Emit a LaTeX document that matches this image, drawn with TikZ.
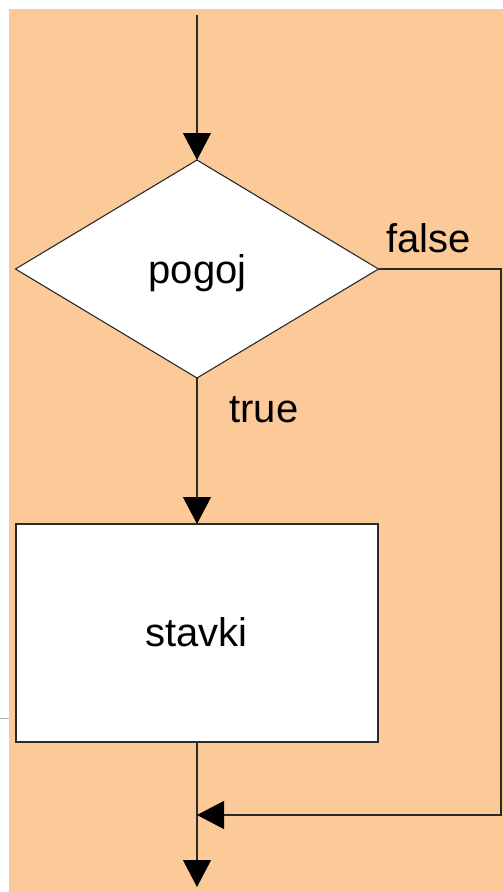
\documentclass[tikz,border=0pt]{standalone}
\usepackage{fontspec}
\setmainfont{Liberation Sans}
\usetikzlibrary{shapes.geometric,arrows.meta}
\definecolor{peach}{HTML}{FCCA98}
\definecolor{lineclr}{HTML}{2A2A2A}
\begin{document}
\begin{tikzpicture}[x=1pt,y=-1pt,
  flow/.style={draw=lineclr, line width=1.1pt},
  arr/.style={flow, -{Triangle[length=27pt,width=28pt,black]}},
  lbl/.style={font=\fontsize{40}{48}\selectfont, inner sep=0, anchor=base},
  decision/.style={diamond, draw=lineclr, fill=white, line width=1.1pt,
    minimum width=363pt, minimum height=218pt, inner sep=0, outer sep=0},
  process/.style={rectangle, draw=lineclr, fill=white, line width=1.1pt,
    minimum width=362pt, minimum height=218pt, inner sep=0, outer sep=0}]
\useasboundingbox (0,0) rectangle (503,892);
\fill[peach] (9,9) rectangle (503,892);
\draw[gray!60, line width=1pt] (0,718) -- (9,718);
\node[decision] (cond) at (197,269) {};
\node[lbl] (condtext) at (197.5,283) {pogoj};
\node[process] (body) at (197,633) {};
\node[lbl] (bodytext) at (196.5,646) {stavki};
\coordinate (start) at (197,15);
\coordinate (rt) at (501,269);
\coordinate (rb) at (501,815);
\coordinate (merge) at (197,815);
\coordinate (end) at (197,887);
\draw[arr] (start) -- (cond.north);
\draw[arr] (cond.south) -- (body.north);
\draw[arr] (body.south) -- (end);
\draw[arr] (cond.east) -- (rt) -- (rb) -- (merge);
\node[lbl] (falselbl) at (428.5,252) {false};
\node[lbl] (truelbl) at (264,422) {true};
\end{tikzpicture}
\end{document}
